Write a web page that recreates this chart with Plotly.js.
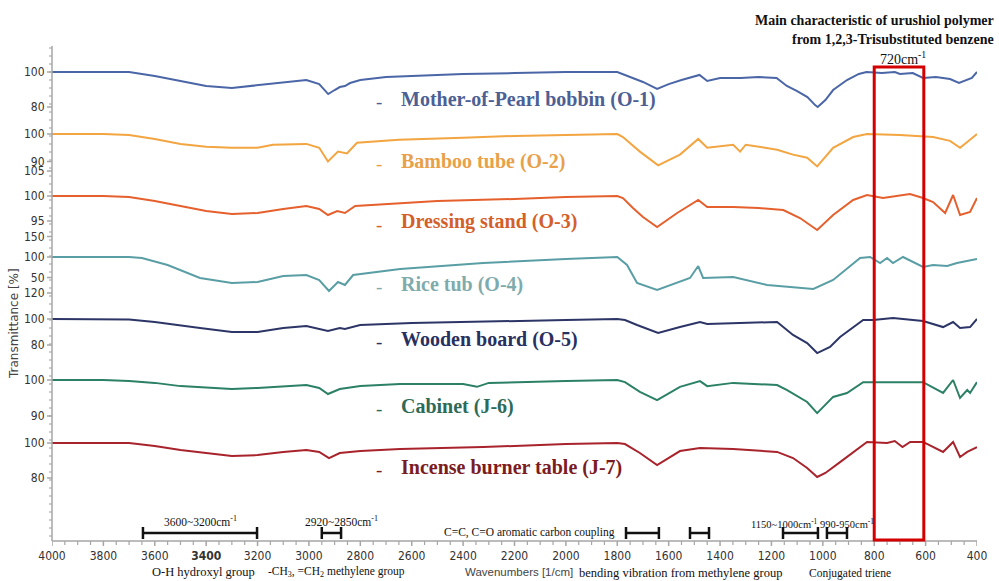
<!DOCTYPE html>
<html><head><meta charset="utf-8">
<script src="https://cdn.plot.ly/plotly-3.0.1.min.js"></script>
<style>html,body{margin:0;padding:0;background:#fff}#chart{width:999px;height:581px}</style>
</head><body><div id="chart"></div>
<script>
// ---------- data ----------
const seriesNames = ["Mother-of-Pearl bobbin (O-1)","Bamboo tube (O-2)","Dressing stand (O-3)","Rice tub (O-4)","Wooden board (O-5)","Cabinet (J-6)","Incense burner table (J-7)"];

const wn1 = [4000,3900,3800,3700,3600,3500,3400,3300,3200,3100,3010,2960,2925,2900,2880,2860,2840,2800,2700,2600,2400,2200,2000,1800,1750,1700,1645,1600,1550,1480,1450,1400,1320,1250,1180,1140,1100,1060,1030,1020,990,960,906,860,830,770,720,700,650,610,560,505,470,440,420,400];
const t1  = [100,100,100,100,97.7,94.9,92,90.9,92.6,94.3,95.4,93.1,87.4,89.7,91.4,92,93.7,95.4,97.1,97.7,98.9,99.4,100,100,97.1,94.3,90.3,93.1,95.4,98.3,94.9,96.6,96.6,97.1,96.6,92,89.1,85.7,81.1,80,84,89.7,95.4,98.9,100,99.4,100,98.9,99.4,96.6,97.1,96,93.7,95.4,96.6,100];

const wn2 = [4000,3800,3700,3600,3500,3400,3300,3200,3140,3010,2960,2926,2887,2852,2813,2650,2400,2200,2000,1800,1778,1712,1641,1556,1485,1450,1349,1322,1300,1178,1116,1061,1022,960,882,828,700,571,505,466,438,400];
const t2  = [100,100,99.6,98.2,96.4,95.4,95,95,96.1,96.4,95,90,93.6,92.9,96.8,97.9,98.6,99.3,99.6,100,98.9,93.6,88.6,92.5,98.2,95,96.1,93.6,96.1,94.3,92.5,91.4,88.2,95,98.9,100,99.6,98.9,97.5,95,97.1,100];

const wn3 = [4000,3800,3700,3600,3500,3400,3300,3200,3100,3010,2960,2926,2890,2860,2820,2700,2500,2200,2000,1800,1778,1739,1700,1645,1567,1485,1450,1349,1250,1154,1089,1022,960,882,828,766,661,610,571,524,493,466,427,400];
const t3  = [100,100,99.8,99,98,97,96.4,96.6,97.4,98,97.4,96.2,97,96.6,98,98.4,99,99.4,99.8,100,99.6,97.6,95.8,93.8,96.6,99.2,97.8,97.8,97.6,97.2,95.6,93.2,96.2,99.2,100.2,99.6,100.4,99.6,98.8,96.6,100.2,96.2,96.8,99.6];

const wn4 = [4000,3800,3700,3650,3550,3424,3300,3200,3100,3010,2960,2922,2887,2860,2828,2645,2322,2000,1830,1800,1762,1723,1645,1556,1517,1485,1466,1349,1217,1037,960,855,816,777,750,727,688,610,571,516,478,400];
const t4  = [100,100,100,97.6,80.5,48.8,36.6,39,53.7,56.1,43.9,17.1,39,31.7,56.1,70.7,85.4,95.1,100,100,80.5,36.6,19.5,39,48.8,78,48.8,51.2,31.7,22,43.9,97.6,100,85.4,97.6,85.4,100,75.6,80.5,78,85.4,95.1];

const wn5 = [4000,3800,3700,3600,3500,3424,3300,3200,3100,3010,2926,2880,2860,2801,2600,2322,2000,1800,1770,1723,1641,1556,1478,1450,1349,1178,1116,1061,1022,972,933,843,804,727,610,532,493,466,427,400];
const t5  = [100,100,99.6,97.7,95.4,93.1,90,90,93.1,94.6,90.8,93.1,92.3,95.4,96.9,97.7,99.2,100,99.2,95.4,89.2,93.8,97.7,96.2,96.9,97.7,87.7,81.5,73.8,78.5,86.2,99.2,99.2,100.8,98.5,93.8,97.7,93.1,93.8,100];

const wn6 = [4000,3800,3700,3600,3500,3400,3300,3200,3100,3010,2960,2926,2880,2800,2645,2400,2346,2300,2000,1800,1770,1712,1645,1556,1478,1450,1349,1178,1139,1061,1022,960,906,843,700,610,532,493,466,438,427,400];
const t6  = [100,100,99.7,99.2,98.3,97.8,97.5,97.8,98.3,98.6,97.8,96.1,97.5,98.3,98.9,98.9,98.1,99.2,99.7,100,99.4,96.7,94.4,98.1,99.7,98.3,99.2,98.6,97.2,93.9,90.8,95.3,96.4,99.4,99.4,99.4,96.4,100,95,97.2,96.4,99.4];

const wn7 = [4000,3800,3700,3600,3500,3400,3300,3200,3100,3010,2960,2922,2880,2800,2645,2322,2000,1800,1770,1712,1645,1556,1478,1349,1178,1116,1061,1022,990,933,843,828,750,720,690,660,610,532,493,466,438,400];
const t7  = [100,100,100,98.3,96,94.3,92.6,93.1,94.9,96,94.9,91.4,94.3,95.4,96.6,97.7,99.4,100,99.4,94.3,87.4,95.4,97.1,96.6,94.9,91.4,85.7,80.6,82.9,89.1,98.9,100.6,100,101.1,97.7,100.6,100.6,94.9,100.6,92,94.9,97.7];

const yTickVals = [[80,100],[90,100],[95,100,105],[50,100,150],[80,100,120],[90,100],[80,100]];
const xTickVals = [4000,3800,3600,3400,3200,3000,2800,2600,2400,2200,2000,1800,1600,1400,1200,1000,800,600,400];
const xTickText = xTickVals.map(v => v === 3400 ? "<b>3400</b>" : String(v));
const xMinorStep = 50;

// band annotations (wavenumber ranges of the brackets) and highlight box
const bracketRanges = [[3646,3202],[2950,2875],[1766,1638],[1517,1443],[1155,1019],[984,906]];
const highlightRange = [800, 607];

// ---------- layout config (positions / styles) ----------
const W = 999, H = 581, L = 52, R = 977, T = 46, B = 541;
const lineColors  = ["#4a66a6","#f2a541","#e5602d","#5a9ea5","#2c3566","#2b8065","#a8232b"];
const labelColors = ["#4d5f94","#e8a049","#d45f2a","#7fabad","#283060","#2d6b58","#7b1c22"];
const base100Px = [72,134,196,257,319,380,443];     // pixel row of 100 % for each band
const pxPerUnit = [1.75,2.75,5.0,0.41,1.3,3.6,1.75];
const labelPx   = [99,161,222,284,339,406,467];

const xs = [wn1,wn2,wn3,wn4,wn5,wn6,wn7];
const ys = [t1,t2,t3,t4,t5,t6,t7];

const px = x => (x - L) / (R - L);
const py = y => (B - y) / (B - T);
const dxp = 1 / (R - L), dyp = 1 / (B - T);

const tickFont = {family:"'Liberation Sans Narrow','DejaVu Sans Condensed',sans-serif", size:12, color:"#333"};
const serif = "'Liberation Serif','Times New Roman',serif";
const AXC = "#a6a6a6";

const traces = xs.map((x,i) => ({
  type:"scatter", mode:"lines", x:x, y:ys[i], name:seriesNames[i],
  xaxis:"x", yaxis: i === 0 ? "y" : "y" + (i+1),
  line:{color:lineColors[i], width:2}, hoverinfo:"skip"
}));

const layout = {
  width:W, height:H, showlegend:false,
  paper_bgcolor:"#fff", plot_bgcolor:"rgba(0,0,0,0)",
  margin:{l:L, r:W-R, t:T, b:H-B},
  xaxis:{
    range:[4000,400], tickmode:"array", tickvals:xTickVals, ticktext:xTickText,
    ticks:"outside", ticklen:4, tickcolor:"rgba(0,0,0,0)",
    showline:false, showgrid:false, zeroline:false, tickfont:tickFont
  },
  annotations:[], shapes:[]
};

const axisShape = (xref, yref, x0, x1, y0, y1, w) =>
  layout.shapes.push({type:"line", xref:xref, yref:yref, x0:x0, x1:x1, y0:y0, y1:y1, line:{color:AXC, width:w}});

for (let i = 0; i < 7; i++) {
  const p = base100Px[i], s = pxPerUnit[i];
  const yid = i === 0 ? "y" : "y" + (i+1);
  const ax = {
    range:[100 - (B - p)/s, 100 + (p - T)/s],
    tickmode:"array", tickvals:yTickVals[i],
    ticks:"outside", ticklen:4, tickcolor:"rgba(0,0,0,0)",
    showline:false, showgrid:false, zeroline:false, tickfont:tickFont, anchor:"x"
  };
  if (i > 0) ax.overlaying = "y";
  layout[i === 0 ? "yaxis" : "yaxis" + (i+1)] = ax;

  // major tick marks of this band's scale
  yTickVals[i].forEach(v => axisShape("paper", yid, -5*dxp, 0, v, v, 1.5));

  layout.annotations.push({xref:"paper", yref:"paper", x:px(379), y:py(labelPx[i]+2), text:"-",
    showarrow:false, xanchor:"center", yanchor:"middle", font:{family:serif, size:19, color:labelColors[i]}});
  layout.annotations.push({xref:"paper", yref:"paper", x:px(399), y:py(labelPx[i]), text:"<b>"+seriesNames[i]+"</b>",
    showarrow:false, xanchor:"left", yanchor:"middle", font:{family:serif, size:20, color:labelColors[i]}});
}

// axis lines
axisShape("paper", "paper", 0, 0, 0, 1, 1.5);
axisShape("paper", "paper", 0, 1, 0, 0, 1.5);
// x ticks (major + minor, every 50 cm-1)
for (let v = xTickVals[0]; v >= xTickVals[xTickVals.length-1]; v -= xMinorStep) {
  const major = xTickVals.indexOf(v) >= 0;
  axisShape("x", "paper", v, v, 0, -(major ? 5 : 4)*dyp, major ? 1.5 : 1.2);
}
// y minor ticks every 8 px along the whole axis
for (let yPx = base100Px[0] - 24; yPx <= B; yPx += 8) {
  if (yPx < T) continue;
  axisShape("paper", "paper", -3*dxp, 0, py(yPx), py(yPx), 1.1);
}

// axis titles
layout.annotations.push({xref:"paper", yref:"paper", x:px(14), y:py(324), text:"Transmittance [%]", textangle:-90,
  showarrow:false, xanchor:"center", yanchor:"middle", font:{family:"'DejaVu Sans',sans-serif", size:12, color:"#444"}});
layout.annotations.push({xref:"paper", yref:"paper", x:px(519), y:py(572), text:"Wavenumbers [1/cm]",
  showarrow:false, xanchor:"center", yanchor:"middle", font:{family:"'Liberation Sans',sans-serif", size:11.5, color:"#444"}});

// header / notes
const note = (x, y, text, size, anchor) => layout.annotations.push({xref:"paper", yref:"paper", x:px(x), y:py(y), text:text,
  showarrow:false, xanchor:anchor || "center", yanchor:"middle", font:{family:serif, size:size, color:"#111"}});
note(996, 20, "<b>Main characteristic of urushiol polymer</b>", 14, "right");
note(996, 40, "<b>from 1,2,3-Trisubstituted benzene</b>", 14, "right");
note(903, 58, "720cm<sup>-1</sup>", 14);

// band labels
note(200, 521, "3600~3200cm<sup>-1</sup>", 11.5);
note(341, 521, "2920~2850cm<sup>-1</sup>", 11.5);
note(617, 532, "C=C, C=O aromatic carbon coupling", 11.5, "right");
note(784, 523, "1150~1000cm<sup>-1</sup>", 10.5);
note(847, 523, "990-950cm<sup>-1</sup>", 10.5);
note(203, 572, "O-H hydroxyl group", 12.5);
note(336, 572, "-CH<sub>3</sub>, =CH<sub>2</sub> methylene group", 11.5);
note(680, 573, "bending vibration from methylene group", 12.5);
note(850, 573, "Conjugated triene", 11.5);

// brackets
bracketRanges.forEach(r => {
  const yl = py(533), y0 = py(527), y1 = py(539);
  layout.shapes.push({type:"line", xref:"x", yref:"paper", x0:r[0], x1:r[1], y0:yl, y1:yl, line:{color:"#111", width:2.5}});
  layout.shapes.push({type:"line", xref:"x", yref:"paper", x0:r[0], x1:r[0], y0:y0, y1:y1, line:{color:"#111", width:2.5}});
  layout.shapes.push({type:"line", xref:"x", yref:"paper", x0:r[1], x1:r[1], y0:y0, y1:y1, line:{color:"#111", width:2.5}});
});

// red highlight rectangle
layout.shapes.push({type:"rect", xref:"x", yref:"paper", x0:highlightRange[0], x1:highlightRange[1],
  y0:py(540), y1:py(67), line:{color:"#d40000", width:3}, fillcolor:"rgba(0,0,0,0)", layer:"above"});

Plotly.newPlot("chart", traces, layout, {displayModeBar:false});
</script>
</body></html>
